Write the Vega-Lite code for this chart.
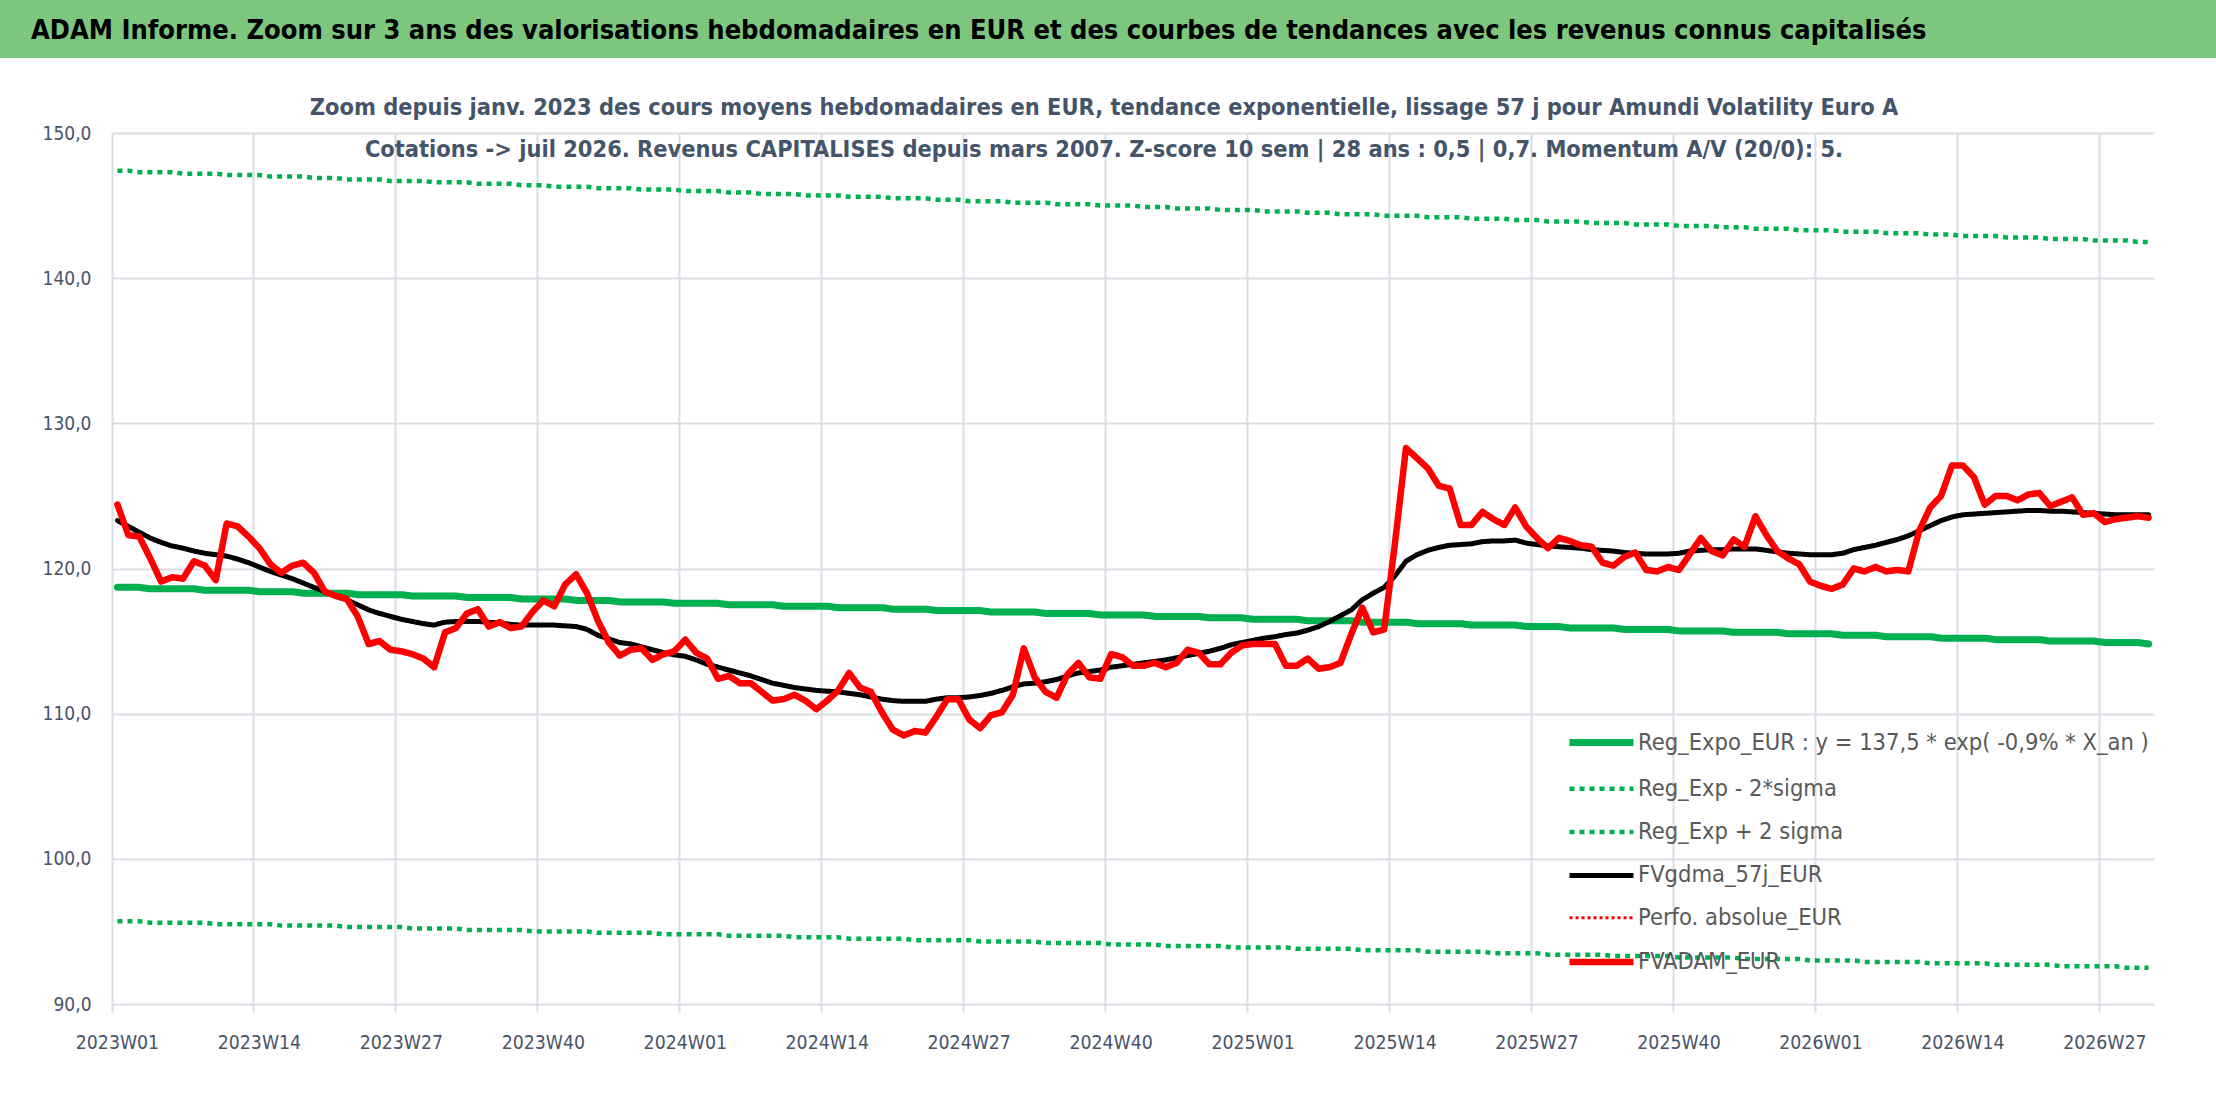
{
  "$schema": "https://vega.github.io/schema/vega-lite/v6.json",
  "padding": 0,
  "background": "#FFFFFF",
  "spacing": 37,
  "config": {"view": {"stroke": null}},
  "vconcat": [
    {
      "width": 2104,
      "height": 58,
      "data": {"values": [{"t": "ADAM Informe. Zoom sur 3 ans des valorisations hebdomadaires en EUR et des courbes de tendances avec les revenus connus capitalisés"}]},
      "layer": [
        {
          "mark": {"type": "rect", "color": "#7DC67E"},
          "encoding": {
            "x": {"datum": -0.05323, "type": "quantitative", "scale": {"domain": [0, 1]}, "axis": null},
            "x2": {"datum": 1}
          }
        },
        {
          "mark": {"type": "text", "align": "left", "baseline": "middle", "dx": 31, "dy": 2, "font": "DejaVu Sans Condensed", "fontSize": 27, "fontWeight": "bold", "color": "#000000"},
          "encoding": {
            "text": {"field": "t"},
            "x": {"datum": -0.05323, "type": "quantitative"}
          }
        }
      ]
    },
    {
      "width": 2042,
      "height": 871,
      "title": {
        "text": ["Zoom depuis janv. 2023 des cours moyens hebdomadaires en EUR, tendance exponentielle, lissage 57 j pour Amundi Volatility Euro A", "Cotations -> juil 2026. Revenus CAPITALISES depuis mars 2007. Z-score 10 sem | 28 ans : 0,5 | 0,7. Momentum A/V (20/0): 5."],
        "anchor": "middle",
        "dx": -29,
        "offset": -38,
        "font": "DejaVu Sans Condensed",
        "fontSize": 23.4,
        "fontWeight": "bold",
        "color": "#44546A",
        "lineHeight": 42
      },
      "data": {"values": [
{"w":"2023W01","a":124.4,"g":123.3,"r":118.7,"m":95.7,"p":147.4},
{"w":"2023W02","a":122.3,"g":122.9,"r":118.7,"m":95.7,"p":147.4},
{"w":"2023W03","a":122.2,"g":122.5,"r":118.7,"m":95.7,"p":147.3},
{"w":"2023W04","a":120.7,"g":122.1,"r":118.6,"m":95.6,"p":147.3},
{"w":"2023W05","a":119.1,"g":121.8,"r":118.6,"m":95.6,"p":147.3},
{"w":"2023W06","a":119.4,"g":121.55,"r":118.6,"m":95.6,"p":147.3},
{"w":"2023W07","a":119.3,"g":121.4,"r":118.6,"m":95.6,"p":147.2},
{"w":"2023W08","a":120.5,"g":121.2,"r":118.6,"m":95.6,"p":147.2},
{"w":"2023W09","a":120.2,"g":121.05,"r":118.5,"m":95.6,"p":147.2},
{"w":"2023W10","a":119.2,"g":120.95,"r":118.5,"m":95.5,"p":147.2},
{"w":"2023W11","a":123.1,"g":120.85,"r":118.5,"m":95.5,"p":147.1},
{"w":"2023W12","a":122.9,"g":120.65,"r":118.5,"m":95.5,"p":147.1},
{"w":"2023W13","a":122.2,"g":120.4,"r":118.5,"m":95.5,"p":147.1},
{"w":"2023W14","a":121.4,"g":120.1,"r":118.4,"m":95.5,"p":147.1},
{"w":"2023W15","a":120.3,"g":119.8,"r":118.4,"m":95.5,"p":147.0},
{"w":"2023W16","a":119.7,"g":119.55,"r":118.4,"m":95.4,"p":147.0},
{"w":"2023W17","a":120.2,"g":119.3,"r":118.4,"m":95.4,"p":147.0},
{"w":"2023W18","a":120.4,"g":119.0,"r":118.3,"m":95.4,"p":147.0},
{"w":"2023W19","a":119.7,"g":118.7,"r":118.3,"m":95.4,"p":146.9},
{"w":"2023W20","a":118.4,"g":118.4,"r":118.3,"m":95.4,"p":146.9},
{"w":"2023W21","a":118.1,"g":118.1,"r":118.3,"m":95.4,"p":146.9},
{"w":"2023W22","a":117.9,"g":117.85,"r":118.3,"m":95.3,"p":146.8},
{"w":"2023W23","a":116.7,"g":117.5,"r":118.2,"m":95.3,"p":146.8},
{"w":"2023W24","a":114.8,"g":117.15,"r":118.2,"m":95.3,"p":146.8},
{"w":"2023W25","a":115.0,"g":116.9,"r":118.2,"m":95.3,"p":146.8},
{"w":"2023W26","a":114.4,"g":116.7,"r":118.2,"m":95.3,"p":146.7},
{"w":"2023W27","a":114.3,"g":116.5,"r":118.2,"m":95.3,"p":146.7},
{"w":"2023W28","a":114.1,"g":116.35,"r":118.1,"m":95.2,"p":146.7},
{"w":"2023W29","a":113.8,"g":116.2,"r":118.1,"m":95.2,"p":146.7},
{"w":"2023W30","a":113.2,"g":116.1,"r":118.1,"m":95.2,"p":146.6},
{"w":"2023W31","a":115.6,"g":116.3,"r":118.1,"m":95.2,"p":146.6},
{"w":"2023W32","a":115.9,"g":116.35,"r":118.1,"m":95.2,"p":146.6},
{"w":"2023W33","a":116.9,"g":116.35,"r":118.0,"m":95.1,"p":146.6},
{"w":"2023W34","a":117.2,"g":116.35,"r":118.0,"m":95.1,"p":146.5},
{"w":"2023W35","a":116.0,"g":116.3,"r":118.0,"m":95.1,"p":146.5},
{"w":"2023W36","a":116.3,"g":116.25,"r":118.0,"m":95.1,"p":146.5},
{"w":"2023W37","a":115.9,"g":116.15,"r":118.0,"m":95.1,"p":146.5},
{"w":"2023W38","a":116.0,"g":116.1,"r":117.9,"m":95.1,"p":146.4},
{"w":"2023W39","a":117.0,"g":116.1,"r":117.9,"m":95.0,"p":146.4},
{"w":"2023W40","a":117.8,"g":116.1,"r":117.9,"m":95.0,"p":146.4},
{"w":"2023W41","a":117.4,"g":116.1,"r":117.9,"m":95.0,"p":146.3},
{"w":"2023W42","a":118.9,"g":116.05,"r":117.9,"m":95.0,"p":146.3},
{"w":"2023W43","a":119.6,"g":116.0,"r":117.8,"m":95.0,"p":146.3},
{"w":"2023W44","a":118.3,"g":115.8,"r":117.8,"m":95.0,"p":146.3},
{"w":"2023W45","a":116.4,"g":115.4,"r":117.8,"m":94.9,"p":146.2},
{"w":"2023W46","a":114.9,"g":115.15,"r":117.8,"m":94.9,"p":146.2},
{"w":"2023W47","a":114.0,"g":114.9,"r":117.7,"m":94.9,"p":146.2},
{"w":"2023W48","a":114.4,"g":114.8,"r":117.7,"m":94.9,"p":146.2},
{"w":"2023W49","a":114.5,"g":114.6,"r":117.7,"m":94.9,"p":146.1},
{"w":"2023W50","a":113.7,"g":114.4,"r":117.7,"m":94.9,"p":146.1},
{"w":"2023W51","a":114.1,"g":114.2,"r":117.7,"m":94.8,"p":146.1},
{"w":"2023W52","a":114.3,"g":114.05,"r":117.6,"m":94.8,"p":146.1},
{"w":"2024W01","a":115.1,"g":113.95,"r":117.6,"m":94.8,"p":146.0},
{"w":"2024W02","a":114.2,"g":113.7,"r":117.6,"m":94.8,"p":146.0},
{"w":"2024W03","a":113.8,"g":113.4,"r":117.6,"m":94.8,"p":146.0},
{"w":"2024W04","a":112.4,"g":113.2,"r":117.6,"m":94.8,"p":146.0},
{"w":"2024W05","a":112.6,"g":113.0,"r":117.5,"m":94.7,"p":145.9},
{"w":"2024W06","a":112.1,"g":112.8,"r":117.5,"m":94.7,"p":145.9},
{"w":"2024W07","a":112.1,"g":112.6,"r":117.5,"m":94.7,"p":145.9},
{"w":"2024W08","a":111.5,"g":112.35,"r":117.5,"m":94.7,"p":145.8},
{"w":"2024W09","a":110.9,"g":112.1,"r":117.5,"m":94.7,"p":145.8},
{"w":"2024W10","a":111.0,"g":111.95,"r":117.4,"m":94.7,"p":145.8},
{"w":"2024W11","a":111.3,"g":111.8,"r":117.4,"m":94.6,"p":145.8},
{"w":"2024W12","a":110.9,"g":111.7,"r":117.4,"m":94.6,"p":145.7},
{"w":"2024W13","a":110.3,"g":111.6,"r":117.4,"m":94.6,"p":145.7},
{"w":"2024W14","a":110.9,"g":111.55,"r":117.4,"m":94.6,"p":145.7},
{"w":"2024W15","a":111.6,"g":111.5,"r":117.3,"m":94.6,"p":145.7},
{"w":"2024W16","a":112.8,"g":111.4,"r":117.3,"m":94.5,"p":145.6},
{"w":"2024W17","a":111.8,"g":111.3,"r":117.3,"m":94.5,"p":145.6},
{"w":"2024W18","a":111.5,"g":111.15,"r":117.3,"m":94.5,"p":145.6},
{"w":"2024W19","a":110.1,"g":111.0,"r":117.3,"m":94.5,"p":145.6},
{"w":"2024W20","a":108.9,"g":110.9,"r":117.2,"m":94.5,"p":145.5},
{"w":"2024W21","a":108.5,"g":110.85,"r":117.2,"m":94.5,"p":145.5},
{"w":"2024W22","a":108.8,"g":110.85,"r":117.2,"m":94.4,"p":145.5},
{"w":"2024W23","a":108.7,"g":110.85,"r":117.2,"m":94.4,"p":145.5},
{"w":"2024W24","a":109.8,"g":111.0,"r":117.1,"m":94.4,"p":145.4},
{"w":"2024W25","a":111.0,"g":111.1,"r":117.1,"m":94.4,"p":145.4},
{"w":"2024W26","a":111.0,"g":111.1,"r":117.1,"m":94.4,"p":145.4},
{"w":"2024W27","a":109.6,"g":111.15,"r":117.1,"m":94.4,"p":145.3},
{"w":"2024W28","a":109.0,"g":111.25,"r":117.1,"m":94.3,"p":145.3},
{"w":"2024W29","a":109.9,"g":111.4,"r":117.0,"m":94.3,"p":145.3},
{"w":"2024W30","a":110.1,"g":111.6,"r":117.0,"m":94.3,"p":145.3},
{"w":"2024W31","a":111.3,"g":111.85,"r":117.0,"m":94.3,"p":145.2},
{"w":"2024W32","a":114.5,"g":112.05,"r":117.0,"m":94.3,"p":145.2},
{"w":"2024W33","a":112.5,"g":112.1,"r":117.0,"m":94.3,"p":145.2},
{"w":"2024W34","a":111.5,"g":112.2,"r":116.9,"m":94.2,"p":145.2},
{"w":"2024W35","a":111.1,"g":112.35,"r":116.9,"m":94.2,"p":145.1},
{"w":"2024W36","a":112.7,"g":112.6,"r":116.9,"m":94.2,"p":145.1},
{"w":"2024W37","a":113.5,"g":112.8,"r":116.9,"m":94.2,"p":145.1},
{"w":"2024W38","a":112.5,"g":112.9,"r":116.9,"m":94.2,"p":145.1},
{"w":"2024W39","a":112.4,"g":113.0,"r":116.8,"m":94.2,"p":145.0},
{"w":"2024W40","a":114.1,"g":113.2,"r":116.8,"m":94.1,"p":145.0},
{"w":"2024W41","a":113.9,"g":113.3,"r":116.8,"m":94.1,"p":145.0},
{"w":"2024W42","a":113.3,"g":113.4,"r":116.8,"m":94.1,"p":145.0},
{"w":"2024W43","a":113.3,"g":113.5,"r":116.8,"m":94.1,"p":144.9},
{"w":"2024W44","a":113.5,"g":113.6,"r":116.7,"m":94.1,"p":144.9},
{"w":"2024W45","a":113.2,"g":113.7,"r":116.7,"m":94.0,"p":144.9},
{"w":"2024W46","a":113.5,"g":113.85,"r":116.7,"m":94.0,"p":144.8},
{"w":"2024W47","a":114.4,"g":114.0,"r":116.7,"m":94.0,"p":144.8},
{"w":"2024W48","a":114.2,"g":114.15,"r":116.7,"m":94.0,"p":144.8},
{"w":"2024W49","a":113.4,"g":114.3,"r":116.6,"m":94.0,"p":144.8},
{"w":"2024W50","a":113.4,"g":114.5,"r":116.6,"m":94.0,"p":144.7},
{"w":"2024W51","a":114.2,"g":114.75,"r":116.6,"m":93.9,"p":144.7},
{"w":"2024W52","a":114.7,"g":114.9,"r":116.6,"m":93.9,"p":144.7},
{"w":"2025W01","a":114.8,"g":115.05,"r":116.5,"m":93.9,"p":144.7},
{"w":"2025W02","a":114.8,"g":115.2,"r":116.5,"m":93.9,"p":144.6},
{"w":"2025W03","a":114.8,"g":115.3,"r":116.5,"m":93.9,"p":144.6},
{"w":"2025W04","a":113.3,"g":115.45,"r":116.5,"m":93.9,"p":144.6},
{"w":"2025W05","a":113.3,"g":115.55,"r":116.5,"m":93.8,"p":144.6},
{"w":"2025W06","a":113.8,"g":115.75,"r":116.4,"m":93.8,"p":144.5},
{"w":"2025W07","a":113.1,"g":116.0,"r":116.4,"m":93.8,"p":144.5},
{"w":"2025W08","a":113.2,"g":116.35,"r":116.4,"m":93.8,"p":144.5},
{"w":"2025W09","a":113.5,"g":116.75,"r":116.4,"m":93.8,"p":144.4},
{"w":"2025W10","a":115.5,"g":117.15,"r":116.4,"m":93.8,"p":144.4},
{"w":"2025W11","a":117.3,"g":117.85,"r":116.3,"m":93.7,"p":144.4},
{"w":"2025W12","a":115.6,"g":118.3,"r":116.3,"m":93.7,"p":144.4},
{"w":"2025W13","a":115.8,"g":118.7,"r":116.3,"m":93.7,"p":144.3},
{"w":"2025W14","a":121.8,"g":119.5,"r":116.3,"m":93.7,"p":144.3},
{"w":"2025W15","a":128.3,"g":120.5,"r":116.3,"m":93.7,"p":144.3},
{"w":"2025W16","a":127.6,"g":120.95,"r":116.2,"m":93.7,"p":144.3},
{"w":"2025W17","a":126.9,"g":121.25,"r":116.2,"m":93.6,"p":144.2},
{"w":"2025W18","a":125.7,"g":121.45,"r":116.2,"m":93.6,"p":144.2},
{"w":"2025W19","a":125.5,"g":121.6,"r":116.2,"m":93.6,"p":144.2},
{"w":"2025W20","a":123.0,"g":121.65,"r":116.2,"m":93.6,"p":144.2},
{"w":"2025W21","a":123.0,"g":121.7,"r":116.1,"m":93.6,"p":144.1},
{"w":"2025W22","a":123.9,"g":121.85,"r":116.1,"m":93.6,"p":144.1},
{"w":"2025W23","a":123.4,"g":121.9,"r":116.1,"m":93.5,"p":144.1},
{"w":"2025W24","a":123.0,"g":121.9,"r":116.1,"m":93.5,"p":144.1},
{"w":"2025W25","a":124.2,"g":121.95,"r":116.1,"m":93.5,"p":144.0},
{"w":"2025W26","a":122.9,"g":121.75,"r":116.0,"m":93.5,"p":144.0},
{"w":"2025W27","a":122.1,"g":121.65,"r":116.0,"m":93.5,"p":144.0},
{"w":"2025W28","a":121.4,"g":121.55,"r":116.0,"m":93.4,"p":143.9},
{"w":"2025W29","a":122.1,"g":121.5,"r":116.0,"m":93.4,"p":143.9},
{"w":"2025W30","a":121.9,"g":121.45,"r":115.9,"m":93.4,"p":143.9},
{"w":"2025W31","a":121.6,"g":121.4,"r":115.9,"m":93.4,"p":143.9},
{"w":"2025W32","a":121.5,"g":121.3,"r":115.9,"m":93.4,"p":143.8},
{"w":"2025W33","a":120.4,"g":121.25,"r":115.9,"m":93.4,"p":143.8},
{"w":"2025W34","a":120.2,"g":121.2,"r":115.9,"m":93.3,"p":143.8},
{"w":"2025W35","a":120.8,"g":121.1,"r":115.8,"m":93.3,"p":143.8},
{"w":"2025W36","a":121.1,"g":121.05,"r":115.8,"m":93.3,"p":143.7},
{"w":"2025W37","a":119.9,"g":121.0,"r":115.8,"m":93.3,"p":143.7},
{"w":"2025W38","a":119.8,"g":121.0,"r":115.8,"m":93.3,"p":143.7},
{"w":"2025W39","a":120.1,"g":121.0,"r":115.8,"m":93.3,"p":143.7},
{"w":"2025W40","a":119.9,"g":121.05,"r":115.7,"m":93.2,"p":143.6},
{"w":"2025W41","a":121.0,"g":121.2,"r":115.7,"m":93.2,"p":143.6},
{"w":"2025W42","a":122.1,"g":121.25,"r":115.7,"m":93.2,"p":143.6},
{"w":"2025W43","a":121.2,"g":121.3,"r":115.7,"m":93.2,"p":143.6},
{"w":"2025W44","a":120.9,"g":121.3,"r":115.7,"m":93.2,"p":143.5},
{"w":"2025W45","a":122.0,"g":121.35,"r":115.6,"m":93.2,"p":143.5},
{"w":"2025W46","a":121.5,"g":121.35,"r":115.6,"m":93.1,"p":143.5},
{"w":"2025W47","a":123.6,"g":121.35,"r":115.6,"m":93.1,"p":143.4},
{"w":"2025W48","a":122.3,"g":121.25,"r":115.6,"m":93.1,"p":143.4},
{"w":"2025W49","a":121.2,"g":121.15,"r":115.6,"m":93.1,"p":143.4},
{"w":"2025W50","a":120.7,"g":121.05,"r":115.5,"m":93.1,"p":143.4},
{"w":"2025W51","a":120.3,"g":121.0,"r":115.5,"m":93.1,"p":143.3},
{"w":"2025W52","a":119.1,"g":120.95,"r":115.5,"m":93.0,"p":143.3},
{"w":"2026W01","a":118.8,"g":120.95,"r":115.5,"m":93.0,"p":143.3},
{"w":"2026W02","a":118.6,"g":120.95,"r":115.5,"m":93.0,"p":143.3},
{"w":"2026W03","a":118.9,"g":121.05,"r":115.4,"m":93.0,"p":143.2},
{"w":"2026W04","a":120.0,"g":121.3,"r":115.4,"m":93.0,"p":143.2},
{"w":"2026W05","a":119.8,"g":121.45,"r":115.4,"m":92.9,"p":143.2},
{"w":"2026W06","a":120.1,"g":121.6,"r":115.4,"m":92.9,"p":143.2},
{"w":"2026W07","a":119.8,"g":121.8,"r":115.3,"m":92.9,"p":143.1},
{"w":"2026W08","a":119.9,"g":122.0,"r":115.3,"m":92.9,"p":143.1},
{"w":"2026W09","a":119.8,"g":122.25,"r":115.3,"m":92.9,"p":143.1},
{"w":"2026W10","a":122.6,"g":122.6,"r":115.3,"m":92.9,"p":143.1},
{"w":"2026W11","a":124.2,"g":122.95,"r":115.3,"m":92.8,"p":143.0},
{"w":"2026W12","a":125.0,"g":123.3,"r":115.2,"m":92.8,"p":143.0},
{"w":"2026W13","a":127.1,"g":123.55,"r":115.2,"m":92.8,"p":143.0},
{"w":"2026W14","a":127.1,"g":123.7,"r":115.2,"m":92.8,"p":142.9},
{"w":"2026W15","a":126.3,"g":123.75,"r":115.2,"m":92.8,"p":142.9},
{"w":"2026W16","a":124.4,"g":123.8,"r":115.2,"m":92.8,"p":142.9},
{"w":"2026W17","a":125.0,"g":123.85,"r":115.1,"m":92.7,"p":142.9},
{"w":"2026W18","a":125.0,"g":123.9,"r":115.1,"m":92.7,"p":142.8},
{"w":"2026W19","a":124.7,"g":123.95,"r":115.1,"m":92.7,"p":142.8},
{"w":"2026W20","a":125.1,"g":124.0,"r":115.1,"m":92.7,"p":142.8},
{"w":"2026W21","a":125.2,"g":124.0,"r":115.1,"m":92.7,"p":142.8},
{"w":"2026W22","a":124.3,"g":123.95,"r":115.0,"m":92.7,"p":142.7},
{"w":"2026W23","a":124.6,"g":123.95,"r":115.0,"m":92.6,"p":142.7},
{"w":"2026W24","a":124.9,"g":123.9,"r":115.0,"m":92.6,"p":142.7},
{"w":"2026W25","a":123.7,"g":123.85,"r":115.0,"m":92.6,"p":142.7},
{"w":"2026W26","a":123.8,"g":123.8,"r":115.0,"m":92.6,"p":142.6},
{"w":"2026W27","a":123.2,"g":123.75,"r":114.9,"m":92.6,"p":142.6},
{"w":"2026W28","a":123.4,"g":123.7,"r":114.9,"m":92.6,"p":142.6},
{"w":"2026W29","a":123.5,"g":123.7,"r":114.9,"m":92.5,"p":142.6},
{"w":"2026W30","a":123.6,"g":123.7,"r":114.9,"m":92.5,"p":142.5},
{"w":"2026W31","a":123.5,"g":123.7,"r":114.8,"m":92.5,"p":142.5}
      ]},
      "transform": [{"fold": ["p", "m", "r", "g", "a"], "as": ["s", "v"]}],
      "encoding": {
        "x": {
          "field": "w", "type": "ordinal",
          "scale": {"type": "band", "paddingInner": 0, "paddingOuter": 0},
          "axis": {
            "title": null,
            "values": ["2023W01","2023W14","2023W27","2023W40","2024W01","2024W14","2024W27","2024W40","2025W01","2025W14","2025W27","2025W40","2026W01","2026W14","2026W27"],
            "labelAngle": 0,
            "labelFont": "DejaVu Sans Condensed",
            "labelFontSize": 19.3,
            "labelColor": "#475467",
            "labelPadding": 21,
            "bandPosition": 0,
            "tickExtra": false,
            "ticks": true,
            "tickSize": 8,
            "tickWidth": 2,
            "tickColor": "#DADDE3",
            "domain": false,
            "grid": true,
            "gridColor": "#DADDE3",
            "gridWidth": 2
          }
        },
        "y": {
          "field": "v", "type": "quantitative",
          "scale": {"domain": [90, 150], "nice": false, "zero": false},
          "axis": {
            "title": null,
            "values": [90, 100, 110, 120, 130, 140, 150],
            "labelExpr": "replace(format(datum.value, '.1f'), '.', ',')",
            "labelFont": "DejaVu Sans Condensed",
            "labelFontSize": 19,
            "labelColor": "#475467",
            "labelPadding": 21,
            "minExtent": 112,
            "ticks": false,
            "domain": false,
            "grid": true,
            "gridColor": "#DADDE3",
            "gridWidth": 2
          }
        },
        "color": {
          "field": "s", "type": "nominal",
          "scale": {"domain": ["r", "m", "p", "g", "e", "a"], "range": ["#00B050", "#00B050", "#00B050", "#000000", "#FF0000", "#FF0000"]},
          "legend": {
            "title": null, "orient": "none", "legendX": 1473, "legendY": 726,
            "labelExpr": "datum.label == 'r' ? 'Reg_Expo_EUR : y = 137,5 * exp( -0,9% *  X_an )' : datum.label == 'm' ? 'Reg_Exp - 2*sigma' : datum.label == 'p' ? 'Reg_Exp + 2 sigma' : datum.label == 'g' ? 'FVgdma_57j_EUR' : datum.label == 'e' ? 'Perfo. absolue_EUR' : 'FVADAM_EUR'",
            "labelFont": "DejaVu Sans Condensed", "labelFontSize": 23.5, "labelColor": "#595959", "labelLimit": 0,
            "symbolType": "M-2.46,0H2.46", "symbolSize": 676, "labelOffset": 20, "rowPadding": 16.3, "padding": 0
          }
        },
        "strokeDash": {
          "field": "s", "type": "nominal",
          "scale": {"domain": ["r", "m", "p", "g", "e", "a"], "range": [[1, 0], [5, 5], [5, 5], [1, 0], [3, 3], [1, 0]]},
          "legend": {
            "title": null, "orient": "none", "legendX": 1473, "legendY": 726,
            "labelExpr": "datum.label == 'r' ? 'Reg_Expo_EUR : y = 137,5 * exp( -0,9% *  X_an )' : datum.label == 'm' ? 'Reg_Exp - 2*sigma' : datum.label == 'p' ? 'Reg_Exp + 2 sigma' : datum.label == 'g' ? 'FVgdma_57j_EUR' : datum.label == 'e' ? 'Perfo. absolue_EUR' : 'FVADAM_EUR'",
            "labelFont": "DejaVu Sans Condensed", "labelFontSize": 23.5, "labelColor": "#595959", "labelLimit": 0,
            "symbolType": "M-2.46,0H2.46", "symbolSize": 676, "labelOffset": 20, "rowPadding": 16.3, "padding": 0
          }
        },
        "strokeWidth": {
          "field": "s", "type": "nominal",
          "scale": {"type": "ordinal", "domain": ["r", "m", "p", "g", "e", "a"], "range": [7, 4.5, 4.5, 5, 3, 6.5]},
          "legend": {
            "title": null, "orient": "none", "legendX": 1473, "legendY": 726,
            "labelExpr": "datum.label == 'r' ? 'Reg_Expo_EUR : y = 137,5 * exp( -0,9% *  X_an )' : datum.label == 'm' ? 'Reg_Exp - 2*sigma' : datum.label == 'p' ? 'Reg_Exp + 2 sigma' : datum.label == 'g' ? 'FVgdma_57j_EUR' : datum.label == 'e' ? 'Perfo. absolue_EUR' : 'FVADAM_EUR'",
            "labelFont": "DejaVu Sans Condensed", "labelFontSize": 23.5, "labelColor": "#595959", "labelLimit": 0,
            "symbolType": "M-2.46,0H2.46", "symbolSize": 676, "labelOffset": 20, "rowPadding": 16.3, "padding": 0
          }
        }
      },
      "layer": [
        {"transform": [{"filter": "datum.s == 'p'"}], "mark": {"type": "line", "strokeCap": "butt"}},
        {"transform": [{"filter": "datum.s == 'm'"}], "mark": {"type": "line", "strokeCap": "butt"}},
        {"transform": [{"filter": "datum.s == 'r'"}], "mark": {"type": "line", "strokeCap": "round"}},
        {"transform": [{"filter": "datum.s == 'g'"}], "mark": {"type": "line", "strokeCap": "round"}},
        {"transform": [{"filter": "datum.s == 'a'"}], "mark": {"type": "line", "strokeCap": "round", "strokeJoin": "round"}}
      ]
    }
  ]
}
